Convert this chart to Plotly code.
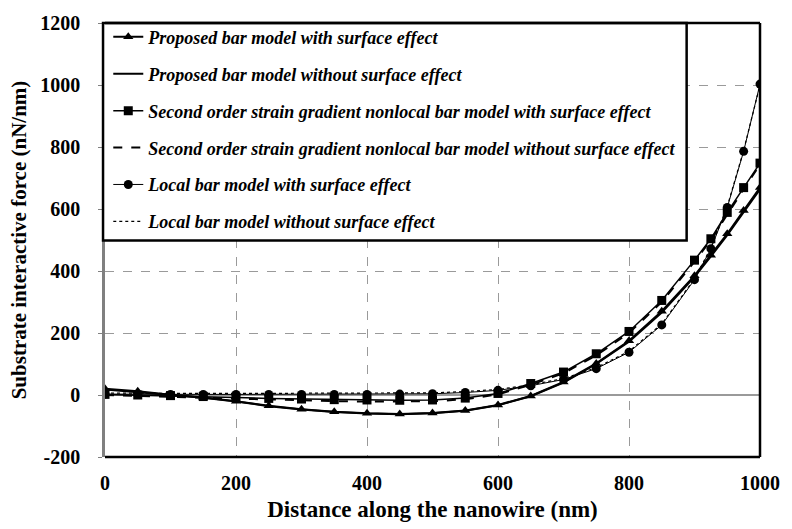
import plotly.graph_objects as go

distance_nm = [0, 50, 100, 150, 200, 250, 300, 350, 400, 450, 500, 550, 600, 650,
               700, 750, 800, 850, 900, 925, 950, 975, 1000]

proposed_with = [20, 12, 1, -8, -20, -35, -46, -54, -59, -61, -58, -50, -32, -3,
                 42, 102, 175, 270, 385, 451, 520, 595, 669]
proposed_without = [18, 10, 0, -9, -21, -36, -47, -55, -60, -62, -59, -51, -33, -4,
                    40, 100, 172, 266, 381, 447, 516, 590, 664]
sg_with = [2, 0, -2, -5, -8, -11, -13, -15, -16, -17, -16, -10, 5, 37,
           74, 133, 205, 305, 435, 504, 589, 669, 748]
sg_without = [0, -3, -6, -10, -13, -16, -18, -20, -21, -21, -20, -14, 2, 33,
              70, 128, 200, 300, 430, 500, 584, 664, 743]
local_with = [3, 2, 2, 2, 2, 2, 2, 2, 2, 3, 4, 8, 15, 30,
              50, 85, 138, 226, 372, 472, 605, 786, 1003]
local_without = [6, 5, 5, 5, 5, 5, 5, 5, 5, 6, 7, 11, 18, 33,
                 53, 88, 141, 229, 375, 475, 608, 789, 1000]

names = [
    "Proposed bar model with surface effect",
    "Proposed bar model without surface effect",
    "Second order strain gradient nonlocal bar model with surface effect",
    "Second order strain gradient nonlocal bar model without surface effect",
    "Local bar model with surface effect",
    "Local bar model without surface effect",
]

y_tickvals = [-200, 0, 200, 400, 600, 800, 1000, 1200]
y_ticktext = ["-200", "0", "200", "400", "600", "800", "1000", "1200"]
x_tickvals = [0, 200, 400, 600, 800, 1000]
x_ticktext = ["0", "200", "400", "600", "800", "1000"]

FONT = "Liberation Serif"

fig = go.Figure()

series = [
    (proposed_with, dict(mode="lines+markers", line=dict(color="black", width=2),
                         marker=dict(symbol="triangle-up", size=9, color="black"))),
    (proposed_without, dict(mode="lines", line=dict(color="black", width=2))),
    (sg_with, dict(mode="lines+markers", line=dict(color="black", width=1.5),
                   marker=dict(symbol="square", size=9, color="black"))),
    (sg_without, dict(mode="lines", line=dict(color="black", width=2, dash="dash"))),
    (local_with, dict(mode="lines+markers", line=dict(color="black", width=1),
                      marker=dict(symbol="circle", size=9, color="black"))),
    (local_without, dict(mode="lines", line=dict(color="black", width=1.2, dash="dot"))),
]

for i, (vals, style) in enumerate(series):
    fig.add_trace(go.Scatter(x=distance_nm, y=vals, name=names[i],
                             legendgroup=f"g{i}", **style))

# legend box
fig.add_shape(type="rect", xref="paper", yref="paper",
              x0=-0.003, x1=0.888, y0=0.499, y1=1.0,
              line=dict(color="black", width=2.5), fillcolor="white", layer="above")

# plot frame (top, right, bottom)
for (x0, y0, x1, y1) in [(0, 1, 1, 1), (1, 0, 1, 1), (0, 0, 1, 0)]:
    fig.add_shape(type="line", xref="paper", yref="paper", x0=x0, y0=y0, x1=x1, y1=y1,
                  line=dict(color="black", width=2.5), layer="above")

fig.update_layout(
    width=792, height=529,
    margin=dict(l=105, r=25, t=18, b=72),
    paper_bgcolor="white", plot_bgcolor="white",
    font=dict(family=FONT, color="black"),
    showlegend=True,
    legend=dict(x=0.005, y=1.01, xanchor="left", yanchor="top",
                bgcolor="rgba(0,0,0,0)", borderwidth=0,
                font=dict(family=FONT, size=18, style="italic", weight="bold"),
                tracegroupgap=10.5, itemwidth=30),
    xaxis=dict(range=[0, 1000], tickvals=x_tickvals, ticktext=x_ticktext,
               showgrid=True, gridcolor="#9a9a9a", griddash="dash", gridwidth=1,
               zeroline=False, showline=False, ticks="",
               tickfont=dict(family=FONT, size=20, weight="bold"),
               ticklabelstandoff=12,
               title=dict(text="Distance along the nanowire (nm)", standoff=7,
                          font=dict(family=FONT, size=23, weight="bold"))),
    yaxis=dict(range=[-200, 1200], tickvals=y_tickvals, ticktext=y_ticktext,
               showgrid=True, gridcolor="#9a9a9a", griddash="dash", gridwidth=1,
               zeroline=True, zerolinecolor="#9a9a9a", zerolinewidth=1.5,
               showline=True, linecolor="#808080", linewidth=2.5,
               ticks="outside", ticklen=4, tickcolor="#808080",
               tickfont=dict(family=FONT, size=20, weight="bold"),
               ticklabelstandoff=14,
               title=dict(text="Substrate interactive force (nN/nm)", standoff=8,
                          font=dict(family=FONT, size=21, weight="bold"))),
)

fig.write_html("out.html")
